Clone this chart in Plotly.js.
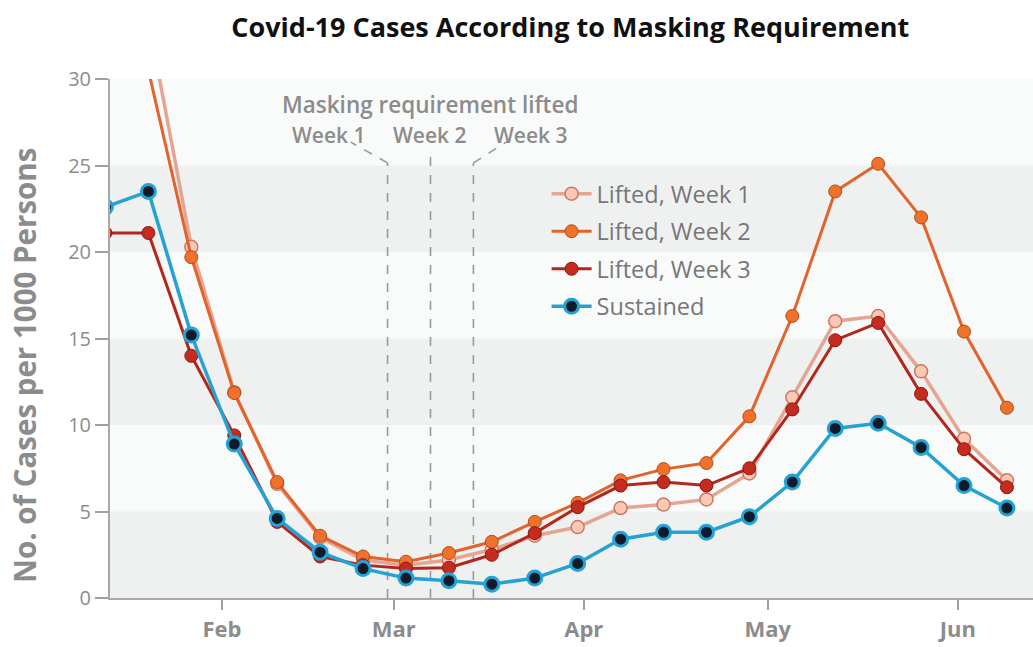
<!DOCTYPE html>
<html>
<head>
<meta charset="utf-8">
<script src="https://cdn.plot.ly/plotly-3.0.1.min.js"></script>
<style>
  html, body { margin: 0; padding: 0; background: #ffffff; }
  #chart { width: 1033px; height: 647px; }
</style>
</head>
<body>
<div id="chart"></div>
<script>
// ---- Data ----
const weekDates = [
  '2021-01-13', '2021-01-20', '2021-01-27', '2021-02-03', '2021-02-10', '2021-02-17',
  '2021-02-24', '2021-03-03', '2021-03-10', '2021-03-17', '2021-03-24', '2021-03-31',
  '2021-04-07', '2021-04-14', '2021-04-21', '2021-04-28', '2021-05-05', '2021-05-12',
  '2021-05-19', '2021-05-26', '2021-06-02', '2021-06-09'
];
const liftedWeek1 = [null, 33.4, 20.3, 11.9, 6.6, 3.5, 2.2, 1.9, 2.2, 2.8, 3.6, 4.1,
                     5.2, 5.4, 5.7, 7.2, 11.6, 16.0, 16.3, 13.1, 9.2, 6.8];
const liftedWeek2 = [null, 30.5, 19.7, 11.85, 6.7, 3.6, 2.4, 2.1, 2.6, 3.25, 4.4, 5.5,
                     6.8, 7.45, 7.8, 10.5, 16.3, 23.5, 25.1, 22.0, 15.4, 11.0];
const liftedWeek3 = [21.1, 21.1, 14.0, 9.4, 4.4, 2.4, 1.9, 1.7, 1.75, 2.5, 3.75, 5.25,
                     6.5, 6.7, 6.5, 7.5, 10.9, 14.9, 15.9, 11.8, 8.6, 6.4];
const sustained   = [22.6, 23.5, 15.2, 8.9, 4.6, 2.65, 1.7, 1.15, 1.0, 0.8, 1.15, 2.0,
                     3.4, 3.8, 3.8, 4.7, 6.7, 9.8, 10.1, 8.7, 6.5, 5.2];
const seriesNames = ['Lifted, Week 1', 'Lifted, Week 2', 'Lifted, Week 3', 'Sustained'];
const liftDates = ['2021-02-28', '2021-03-07', '2021-03-14'];
const liftLabels = ['Week 1', 'Week 2', 'Week 3'];
const yTicks = [0, 5, 10, 15, 20, 25, 30];
const yTitle = 'No. of Cases per 1000 Persons';

// ---- Styles ----
const FONT = '"Open Sans", Lato, sans-serif';
const GRAY = '#8c8c8c';

function dayShift(dateStr, days) {
  const d = new Date(dateStr + 'T00:00:00Z');
  d.setTime(d.getTime() + days * 86400000);
  return d.toISOString().slice(0, 19).replace('T', ' ');
}

const styles = [
  { line: '#e6a593', fill: '#fbc8b3', edge: '#c97866', ew: 1.5, lw: 3.5, size: 13 },
  { line: '#e2632b', fill: '#f0712a', edge: '#b34d1b', ew: 1,   lw: 3,   size: 13 },
  { line: '#b3271c', fill: '#c62b1f', edge: '#861a11', ew: 1,   lw: 3,   size: 13 },
  { line: '#24a2d4', fill: '#0f1a2b', edge: '#22a3d6', ew: 3,   lw: 3.5, size: 14 }
];
const values = [liftedWeek1, liftedWeek2, liftedWeek3, sustained];

const traces = values.map((v, i) => ({
  type: 'scatter',
  mode: 'lines+markers',
  name: seriesNames[i],
  legendgroup: 'g' + i,
  x: weekDates,
  y: v,
  line: { color: styles[i].line, width: styles[i].lw },
  marker: { size: styles[i].size, color: styles[i].fill,
            line: { color: styles[i].edge, width: styles[i].ew } },
  cliponaxis: true,
  hoverinfo: 'x+y'
}));

// ---- Background bands ----
const shapes = [];
for (let k = 0; k < 30; k += 10) {
  shapes.push({ type: 'rect', xref: 'paper', yref: 'y', x0: 0, x1: 1, y0: k, y1: k + 5,
                fillcolor: '#eff1f1', line: { width: 0 }, layer: 'below' });
}
// ---- Lift marker lines ----
const dash = { color: '#9a9a9a', width: 1.6, dash: 'dash' };
const vTop = [25.15, 25.95, 25.15];
liftDates.forEach((d, i) => {
  shapes.push({ type: 'line', xref: 'x', yref: 'y', x0: d, x1: d, y0: 0, y1: vTop[i],
                line: dash, layer: 'below' });
});
shapes.push({ type: 'line', xref: 'x', yref: 'y', x0: liftDates[0], y0: vTop[0],
              x1: dayShift(liftDates[0], -6.0), y1: 26.35, line: dash, layer: 'below' });
shapes.push({ type: 'line', xref: 'x', yref: 'y', x0: liftDates[2], y0: vTop[2],
              x1: dayShift(liftDates[2], 6.0), y1: 26.5, line: dash, layer: 'below' });

const annotations = [
  { xref: 'x', yref: 'y', x: liftDates[1], y: 28.55, text: 'Masking requirement lifted',
    showarrow: false, font: { family: FONT, size: 22.5, color: GRAY, weight: 600 } },
  { xref: 'paper', yref: 'paper', x: -0.0921, y: 0.449, text: yTitle, textangle: -90,
    showarrow: false, xanchor: 'center', yanchor: 'middle',
    font: { family: FONT, size: 29.5, color: GRAY, weight: 'bold' } }
];
const labelOffsets = [-9.6, 0, 9.4];
liftLabels.forEach((t, i) => {
  annotations.push({ xref: 'x', yref: 'y', x: dayShift(liftDates[i], labelOffsets[i]), y: 26.75,
    text: t, showarrow: false, font: { family: FONT, size: 21, color: GRAY, weight: 600 } });
});

const layout = {
  width: 1033, height: 647,
  margin: { l: 110, r: 0, t: 79, b: 49, pad: 0 },
  paper_bgcolor: '#ffffff',
  plot_bgcolor: '#f9fafa',
  showlegend: true,
  title: {
    text: 'Covid-19 Cases According to Masking Requirement',
    font: { family: FONT, size: 27, color: '#111111', weight: 'bold' },
    xref: 'container', yref: 'container', x: 0.552, xanchor: 'center', y: 0.958, yanchor: 'middle'
  },
  xaxis: {
    type: 'date',
    range: ['2021-01-13 17:45', '2021-06-13 06:00'],
    tick0: '2021-02-01', dtick: 'M1', tickformat: '%b',
    ticks: 'outside', ticklen: 10, tickwidth: 2, tickcolor: '#a0a0a0',
    ticklabelstandoff: 1,
    showline: true, linecolor: '#a8a8a8', linewidth: 2,
    showgrid: false, zeroline: false,
    tickfont: { family: FONT, size: 22, color: GRAY, weight: 'bold' },
    fixedrange: true
  },
  yaxis: {
    range: [0, 30],
    tickvals: yTicks,
    ticks: 'outside', ticklen: 13, tickwidth: 2, tickcolor: '#a0a0a0',
    showline: true, linecolor: '#a8a8a8', linewidth: 2,
    showgrid: false, zeroline: false,
    tickfont: { family: FONT, size: 20, color: GRAY },
    title: { text: '' },
    fixedrange: true
  },
  legend: {
    x: 0.473, y: 0.821, xanchor: 'left', yanchor: 'top',
    bgcolor: 'rgba(0,0,0,0)',
    font: { family: FONT, size: 23.5, color: '#767676' },
    traceorder: 'grouped', tracegroupgap: 4,
    itemwidth: 40
  },
  shapes: shapes,
  annotations: annotations
};

Plotly.newPlot('chart', traces, layout, { displayModeBar: false, staticPlot: true });
</script>
</body>
</html>
